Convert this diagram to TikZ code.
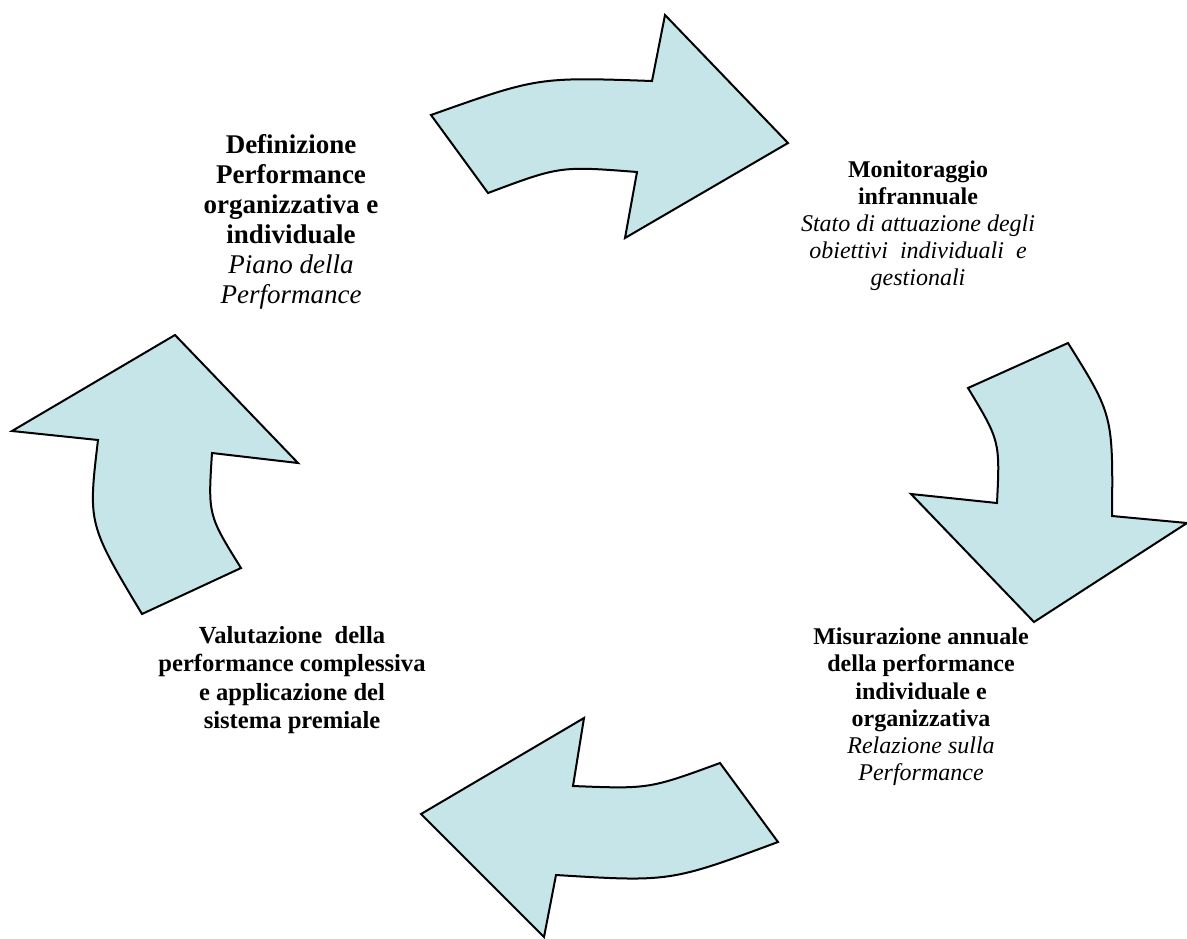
\documentclass[tikz,border=0pt]{standalone}
\usepackage{fontspec}
\setmainfont{Liberation Serif}
\usepackage{tikz}
\definecolor{arrowfill}{RGB}{198,229,232}

\begin{document}
\begin{tikzpicture}[x=0.5pt, y=-0.5pt,
          cyclearrow/.style = {draw      = black,
                               fill      = arrowfill,
                               line width = 1pt,
                               line join = miter},
          phase/.style      = {align     = center,
                               inner sep = 0pt,
                               font      = \fontsize{12}{13.8}\selectfont}]
  \useasboundingbox (0,0) rectangle (1187,938);

  % arrows of the cycle
  \draw [cyclearrow] (431,115) .. controls (538,77) .. (652,81)
        -- (665,15) -- (788,143) -- (625,238) -- (637,172)
        .. controls (560,166) .. (488,193) -- cycle;
  \draw [cyclearrow] (1068,343) .. controls (1113,415) .. (1112,516)
        -- (1187,523) -- (1034,622) -- (911,494) -- (997,503)
        .. controls (1000,441) .. (968,388) -- cycle;
  \draw [cyclearrow] (720,763) .. controls (649,789) .. (573,786)
        -- (584,718) -- (421,814) -- (544,937) -- (556,875)
        .. controls (670,882) .. (778,842) -- cycle;
  \draw [cyclearrow] (175,335) -- (12,431) -- (98,440)
        .. controls (88,524) .. (142,614) -- (241,568)
        .. controls (208,515) .. (212,453) -- (298,463) -- cycle;

  % phases
  \node [phase, font=\fontsize{13.5}{15}\selectfont] (definizione) at (291,222)
        {\textbf{Definizione}\\ \textbf{Performance}\\
         \textbf{organizzativa e}\\ \textbf{individuale}\\
         \textit{Piano della}\\ \textit{Performance}};
  \node [phase, font=\fontsize{12}{13.5}\selectfont] (monitoraggio) at (918,226)
        {\textbf{Monitoraggio}\\ \textbf{infrannuale}\\
         \textit{Stato di attuazione degli}\\
         \textit{obiettivi\ \ individuali\ \ e}\\ \textit{gestionali}};
  \node [phase, font=\fontsize{12}{13.6}\selectfont] (misurazione) at (921,707)
        {\textbf{Misurazione annuale}\\ \textbf{della performance}\\
         \textbf{individuale e}\\ \textbf{organizzativa}\\
         \textit{Relazione sulla}\\ \textit{Performance}};
  \node [phase, font=\fontsize{12.3}{14.2}\selectfont] (valutazione) at (292,680)
        {\textbf{Valutazione\ \ della}\\ \textbf{performance complessiva}\\
         \textbf{e applicazione del}\\ \textbf{sistema premiale}};
\end{tikzpicture}
\end{document}
